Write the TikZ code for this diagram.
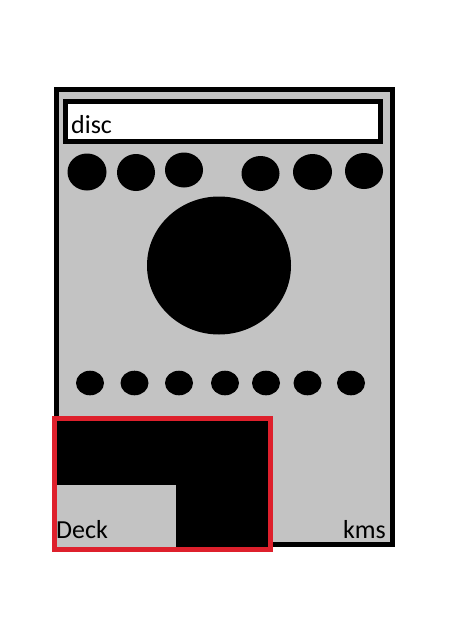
\documentclass[tikz,border=0pt]{standalone}
\usepackage{fontspec}
\setmainfont{Carlito}
\definecolor{paneltone}{RGB}{195,195,195}
\definecolor{framered}{RGB}{222,32,44}
\begin{document}
\begin{tikzpicture}[x=1pt,y=-1pt,
  knob/.style={fill=black,draw=none},
  label/.style={inner sep=0pt,font=\fontsize{26}{30}\selectfont,text=black}]
\useasboundingbox (0,0) rectangle (456,619);
% outer panel
\draw[line width=5pt,fill=paneltone] (56.5,89.5) rectangle (392.5,544.5);
% display bar
\draw[line width=5pt,fill=white] (65.8,101.8) rectangle (380.5,141.5);
\node[label,anchor=base west] (disc) at (71,133) {disc};
% top knobs
\fill[knob] (87,172) ellipse [x radius=19.5,y radius=18.5];
\fill[knob] (136,172.5) ellipse [x radius=19,y radius=18.5];
\fill[knob] (184,170) ellipse [x radius=19,y radius=17.5];
\fill[knob] (260.5,173.5) ellipse [x radius=19,y radius=17.5];
\fill[knob] (312.5,172) ellipse [x radius=19.5,y radius=18];
\fill[knob] (364,171) ellipse [x radius=19,y radius=18];
% big disc
\fill[knob] (219,265.5) ellipse [x radius=72,y radius=69];
% bottom knobs
\foreach \cx in {90,134.5,179,225,266,307.5,351}
  \fill[knob] (\cx,383) ellipse [x radius=14,y radius=12.3];
% deck area
\fill[black] (57,421) rectangle (268.5,547);
\fill[paneltone] (57,485) rectangle (176,547);
\draw[line width=5pt,draw=framered] (54.8,418.5) rectangle (270.8,549.5);
\node[label,anchor=base west] (deck) at (56,538) {Deck};
\node[label,anchor=base east] (kms) at (386,538) {kms};
\end{tikzpicture}
\end{document}
